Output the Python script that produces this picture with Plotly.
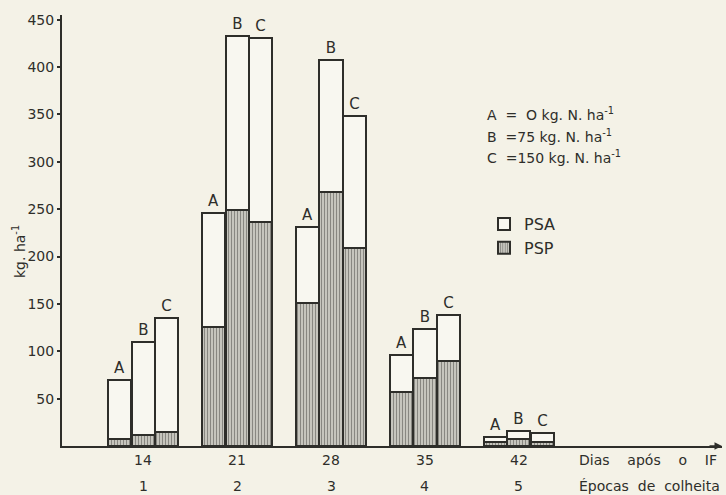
import plotly.graph_objects as go

days = ["14", "21", "28", "35", "42"]
epocas = ["1", "2", "3", "4", "5"]
treatments = ["A", "B", "C"]
total_A = [70, 246, 231, 96, 10]
total_B = [110, 433, 408, 124, 16]
total_C = [135, 431, 348, 138, 14]
psp_A = [7, 126, 151, 57, 4]
psp_B = [12, 249, 268, 72, 7]
psp_C = [15, 236, 209, 90, 4]
y_ticks = [50, 100, 150, 200, 250, 300, 350, 400, 450]

totals = [total_A, total_B, total_C]
psps = [psp_A, psp_B, psp_C]
offsets = [-0.25, 0.0, 0.25]
xpos = [1, 2, 3, 4, 5]

paper = "#f4f2e7"
ink = "#2e2e2a"
font = "DejaVu Sans"

fig = go.Figure()
for i, t in enumerate(treatments):
    xs = [x + offsets[i] for x in xpos]
    fig.add_trace(go.Bar(
        x=xs, y=psps[i], width=0.245, name="PSP",
        legendgroup="PSP", showlegend=(i == 0),
        marker=dict(color="#b5b4ac", line=dict(color=ink, width=2),
                    pattern=dict(shape="|", fgcolor="#3e3e3a", bgcolor="#d2d1c9",
                                 size=3, solidity=0.45)),
        hoverinfo="skip",
    ))
    psa = [tt - pp for tt, pp in zip(totals[i], psps[i])]
    fig.add_trace(go.Bar(
        x=xs, y=psa, base=psps[i], width=0.245, name="PSA",
        legendgroup="PSA", showlegend=(i == 0),
        marker=dict(color="#f8f7f0", line=dict(color=ink, width=2)),
        text=[t] * len(xs), textposition="outside", cliponaxis=False,
        textfont=dict(family=font, size=15, color=ink),
        hoverinfo="skip",
    ))

W, H = 726, 495
L, R, T, B = 62, 4, 15, 49
pw, ph = W - L - R, H - T - B


def px(xp):
    return (xp - L) / pw


def py(yp):
    return (H - B - yp) / ph


ann_font = dict(family=font, size=14, color=ink)

# épocas row
for x, e in zip(xpos, epocas):
    fig.add_annotation(x=x, y=py(486), xref="x", yref="paper", text=e, showarrow=False,
                       xanchor="center", yanchor="middle", font=ann_font)

fig.add_annotation(x=px(577), y=py(460), xref="paper", yref="paper", xanchor="left",
                   yanchor="middle",
                   text="Dias&nbsp;&nbsp;&nbsp;&nbsp;após&nbsp;&nbsp;&nbsp;&nbsp;o&nbsp;&nbsp;&nbsp;&nbsp;IF",
                   showarrow=False, font=ann_font)
fig.add_annotation(x=px(577), y=py(486), xref="paper", yref="paper", xanchor="left",
                   yanchor="middle",
                   text="Épocas&nbsp;&nbsp;de&nbsp;&nbsp;colheita", showarrow=False, font=ann_font)
for yy, txt in [(114, "A&nbsp;&nbsp;=&nbsp;&nbsp;O kg. N. ha<sup>-1</sup>"),
                (136, "B&nbsp;&nbsp;=75 kg. N. ha<sup>-1</sup>"),
                (157, "C&nbsp;&nbsp;=150 kg. N. ha<sup>-1</sup>")]:
    fig.add_annotation(x=px(485), y=py(yy), xref="paper", yref="paper", xanchor="left",
                       yanchor="middle", text=txt, showarrow=False, font=ann_font)
fig.add_annotation(x=px(19), y=py(252), xref="paper", yref="paper", textangle=-90,
                   xanchor="center", yanchor="middle",
                   text="kg. ha<sup>-1</sup>", showarrow=False, font=ann_font)
# axis arrow head
fig.add_annotation(x=1.0, y=0, xref="paper", yref="y", ax=-14, ay=0,
                   showarrow=True, arrowhead=2, arrowsize=1, arrowwidth=1.5,
                   arrowcolor=ink, text="")

fig.update_layout(
    width=W, height=H,
    margin=dict(l=L, r=R, t=T, b=B),
    paper_bgcolor=paper, plot_bgcolor=paper,
    barmode="overlay", bargap=0,
    font=dict(family=font, size=13, color=ink),
    legend=dict(x=px(484), y=py(207), xanchor="left", yanchor="top",
                bgcolor="rgba(0,0,0,0)", traceorder="reversed",
                font=dict(family=font, size=16, color=ink),
                itemwidth=30, tracegroupgap=0),
    showlegend=True,
)
fig.update_xaxes(range=[0.138, 7.16], tickvals=xpos, ticktext=days,
                 showline=True, linecolor=ink, linewidth=2, showgrid=False,
                 zeroline=False, ticks="", tickfont=dict(family=font, size=14, color=ink))
fig.update_yaxes(range=[0, 455], tickvals=y_ticks, showline=True, linecolor=ink,
                 linewidth=2, showgrid=False, zeroline=False, ticks="outside",
                 ticklen=3, tickcolor=ink, tickwidth=2,
                 tickfont=dict(family=font, size=14, color=ink))

fig.write_html("out.html", config={"displayModeBar": False},
               post_script="document.body.style.margin='0';document.body.style.overflow='hidden';")
